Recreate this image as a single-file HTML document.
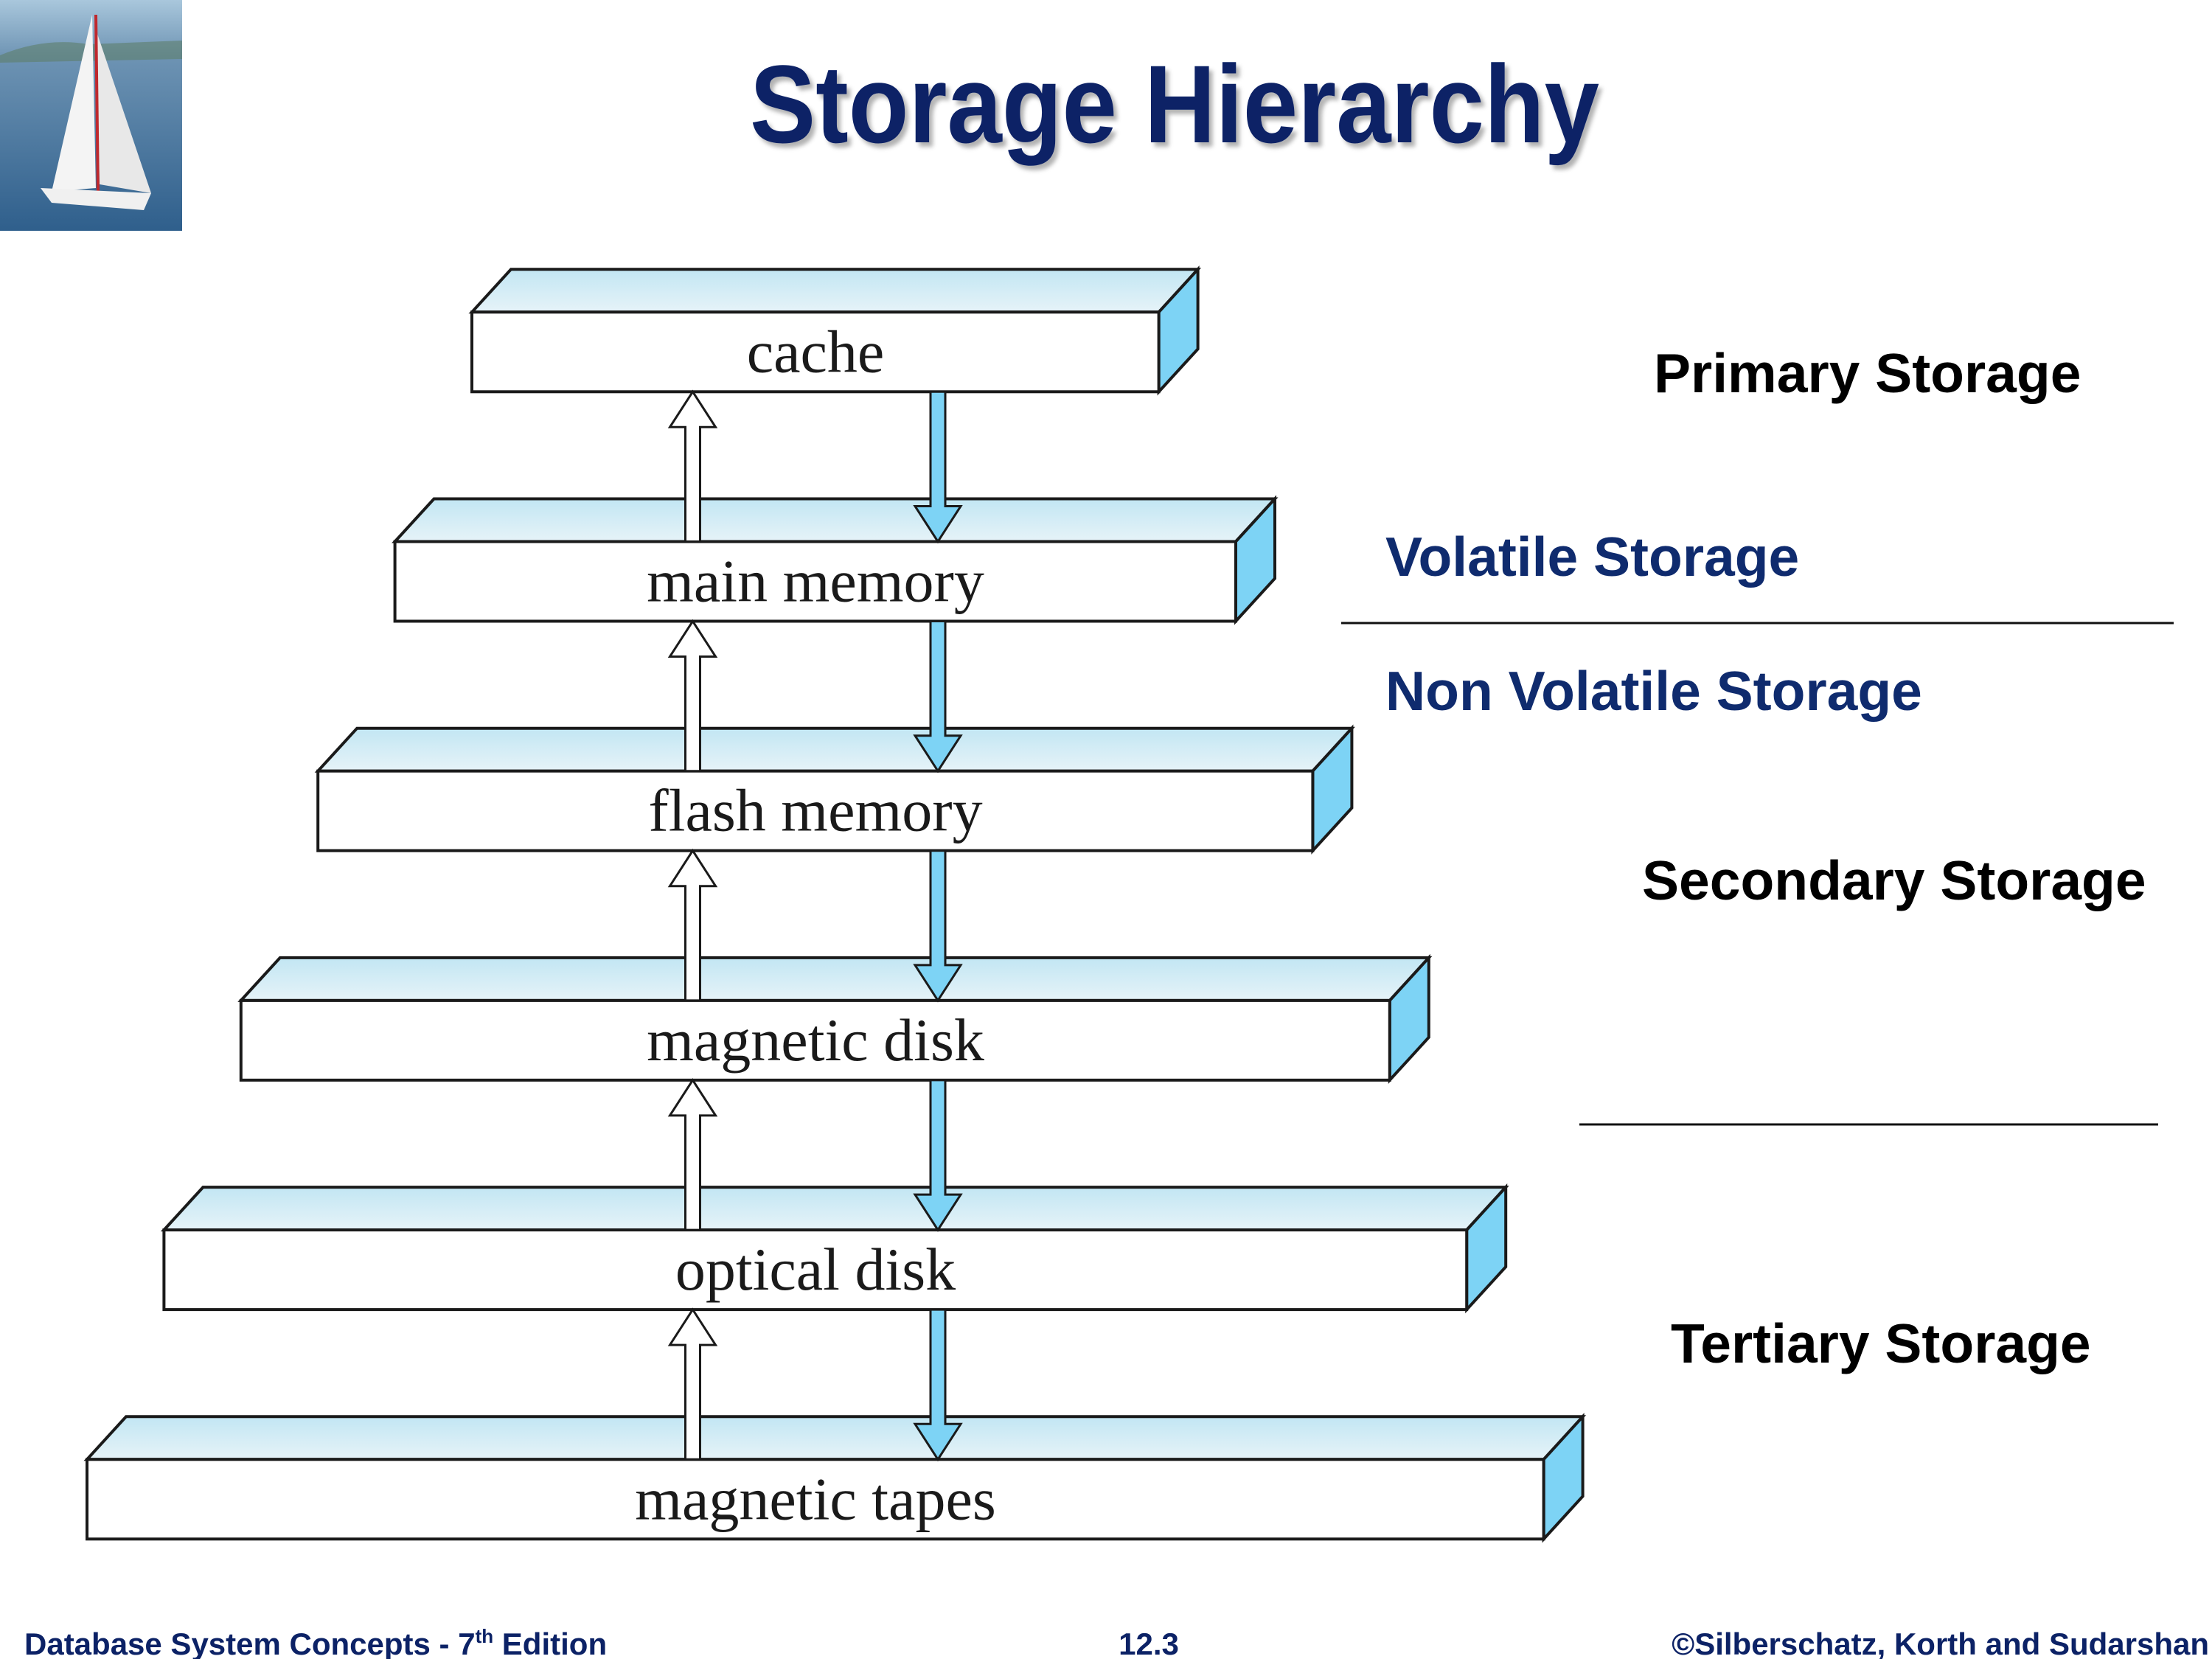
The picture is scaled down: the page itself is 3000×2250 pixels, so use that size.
<!DOCTYPE html>
<html><head><meta charset="utf-8"><style>html,body{margin:0;padding:0;background:#fff}svg{display:block}</style></head>
<body>
<svg width="3000" height="2250" viewBox="0 0 3000 2250" xmlns="http://www.w3.org/2000/svg">
<defs>
<linearGradient id="tg" x1="0" y1="0" x2="0" y2="1"><stop offset="0" stop-color="#c2e6f3"/><stop offset="1" stop-color="#e6f3f8"/></linearGradient>
<linearGradient id="sea" x1="0" y1="0" x2="0" y2="1"><stop offset="0" stop-color="#a9c7dc"/><stop offset="0.25" stop-color="#6d93b3"/><stop offset="1" stop-color="#2f5f8c"/></linearGradient>
<filter id="sh"><feDropShadow dx="5" dy="6" stdDeviation="3" flood-color="#000" flood-opacity="0.3"/></filter>
</defs>
<rect x="0" y="0" width="247" height="313" fill="url(#sea)"/>
<path d="M0 75 Q60 50 120 60 L247 55 L247 80 L0 85Z" fill="#5d7f6a" opacity="0.6"/>
<path d="M125 20 L70 260 L130 255Z" fill="#f4f4f4"/>
<path d="M130 40 L135 250 L205 262Z" fill="#e8e8e8"/>
<line x1="130" y1="20" x2="133" y2="260" stroke="#c0282d" stroke-width="4"/>
<path d="M55 255 L205 262 L195 285 L70 275Z" fill="#f0f0f0"/>
<text x="1017" y="193" textLength="1152" lengthAdjust="spacingAndGlyphs" font-family="Liberation Sans, sans-serif" font-weight="bold" font-size="150" fill="#0c2266" filter="url(#sh)">Storage Hierarchy</text>
<g id="boxes" stroke="#1a1a1a" stroke-width="4" stroke-linejoin="miter">
</g>
<g font-family="Liberation Sans, sans-serif" font-weight="bold" font-size="75">
<text x="2243" y="532" fill="#000">Primary Storage</text>
<text x="1879" y="781" fill="#0f2b6e">Volatile Storage</text>
<text x="1879" y="963" fill="#0f2b6e">Non Volatile Storage</text>
<text x="2227" y="1220" fill="#000">Secondary Storage</text>
<text x="2266" y="1848" fill="#000">Tertiary Storage</text>
</g>
<line x1="1819" y1="845" x2="2948" y2="845" stroke="#111" stroke-width="3"/>
<line x1="2142" y1="1525" x2="2927" y2="1525" stroke="#111" stroke-width="3"/>
<g font-family="Liberation Sans, sans-serif" font-weight="bold" font-size="42" fill="#0c2266">
<text x="33" y="2244">Database System Concepts - 7<tspan font-size="26" dy="-16">th</tspan><tspan dy="16"> Edition</tspan></text>
<text x="1558" y="2244" text-anchor="middle">12.3</text>
<text x="2996" y="2244" text-anchor="end">©Silberschatz, Korth and Sudarshan</text>
</g>
<script>
(function(){
var g=document.getElementById('boxes');var ns='http://www.w3.org/2000/svg';
var labels=['cache','main memory','flash memory','magnetic disk','optical disk','magnetic tapes'];
function el(t,a,p){var e=document.createElementNS(ns,t);for(var k in a)e.setAttribute(k,a[k]);(p||g).appendChild(e);return e;}
var dx=53,dy=58,H=108;
for(var i=0;i<6;i++){
var L=640-104.4*i,R=1571.6+104.4*i,T=423.3+311.2*i,B=T+H;
el('polygon',{points:[L,T,L+dx,T-dy,R+dx,T-dy,R,T].join(' '),fill:'url(#tg)'});
el('polygon',{points:[R,T,R+dx,T-dy,R+dx,B-dy,R,B].join(' '),fill:'#7dd3f5'});
el('rect',{x:L,y:T,width:R-L,height:H,fill:'#fff'});
var t=el('text',{x:1106,y:T+81,'text-anchor':'middle','font-family':'Liberation Serif, serif','font-size':'82',fill:'#1a1a1a',stroke:'none'});
t.textContent=labels[i];
}
for(var i=0;i<5;i++){
var B=423.3+311.2*i+H,T2=423.3+311.2*(i+1);
var ux=939.5,hw=31,sw=10,hh=48;
el('polygon',{points:[ux-sw,T2,ux-sw,B+hh,ux-hw,B+hh,ux,B,ux+hw,B+hh,ux+sw,B+hh,ux+sw,T2].join(' '),fill:'#fff','stroke-width':3});
var dxp=1272;
el('polygon',{points:[dxp-sw,B,dxp-sw,T2-hh,dxp-hw,T2-hh,dxp,T2,dxp+hw,T2-hh,dxp+sw,T2-hh,dxp+sw,B].join(' '),fill:'#7dd3f5','stroke-width':3});
}
})();
</script>
</svg>
</body></html>
